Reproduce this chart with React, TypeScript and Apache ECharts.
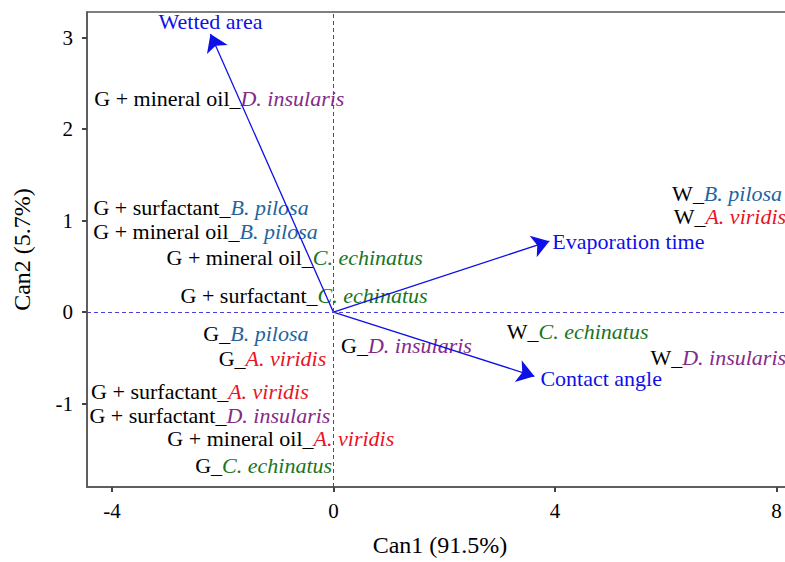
import React, { useEffect, useRef } from "react";
import * as echarts from "echarts";

// Treatment labels (centres of text)
const labelPrefix = [
  "G + mineral oil_",
  "G + surfactant_",
  "G + mineral oil_",
  "G + mineral oil_",
  "G + surfactant_",
  "G_",
  "G_",
  "G + surfactant_",
  "G + surfactant_",
  "G + mineral oil_",
  "G_",
  "G_",
  "W_",
  "W_",
  "W_",
  "W_",
];
const labelSpecies = [
  "D. insularis",
  "B. pilosa",
  "B. pilosa",
  "C. echinatus",
  "C. echinatus",
  "B. pilosa",
  "A. viridis",
  "A. viridis",
  "D. insularis",
  "A. viridis",
  "C. echinatus",
  "D. insularis",
  "C. echinatus",
  "D. insularis",
  "B. pilosa",
  "A. viridis",
];
const can1 = [-2.06, -2.39, -2.31, -0.7, -0.53, -1.4, -1.1, -2.41, -2.23, -0.95, -1.26, 1.32, 4.41, 6.95, 7.11, 7.16];
const can2 = [2.34, 1.14, 0.885, 0.6, 0.18, -0.23, -0.51, -0.87, -1.13, -1.38, -1.67, -0.36, -0.21, -0.49, 1.3, 1.05];

// Variable vectors
const arrowNames = ["Wetted area", "Evaporation time", "Contact angle"];
const arrowCan1 = [-2.22, 3.9, 3.63];
const arrowCan2 = [3.04, 0.776, -0.7];

const xTicks = [-4, 0, 4, 8];
const yTicks = [-1, 0, 1, 2, 3];

const speciesColor: Record<string, string> = {
  "B. pilosa": "#23639e",
  "A. viridis": "#e8141e",
  "C. echinatus": "#1a751e",
  "D. insularis": "#842a8a",
};
const speciesKey: Record<string, string> = {
  "B. pilosa": "bp",
  "A. viridis": "av",
  "C. echinatus": "ce",
  "D. insularis": "di",
};

const FONT = "'Liberation Serif', 'DejaVu Serif', serif";
const LABEL_SIZE = 22;

export default function App() {
  const ref = useRef<HTMLDivElement>(null);
  useEffect(() => {
    if (!ref.current) return;
    const chart = echarts.init(ref.current, undefined, { renderer: "svg" });

    const rich: Record<string, any> = {
      n: { color: "#000", fontFamily: FONT, fontSize: LABEL_SIZE, textBorderWidth: 0 },
    };
    Object.keys(speciesColor).forEach((s) => {
      rich[speciesKey[s]] = {
        color: speciesColor[s],
        fontFamily: FONT,
        fontSize: LABEL_SIZE,
        fontStyle: "italic",
        textBorderWidth: 0,
      };
    });

    const textData = can1.map((x, i) => ({
      value: [x, can2[i]],
      label: {
        formatter: `{n|${labelPrefix[i]}}{${speciesKey[labelSpecies[i]]}|${labelSpecies[i]}}`,
      },
    }));

    const arrowLabelStyle = [
      { align: "center", verticalAlign: "middle", offset: [0, -12] },
      { align: "left", verticalAlign: "middle", offset: [3, 0] },
      { align: "left", verticalAlign: "middle", offset: [6, 2] },
    ];

    const option: any = {
      animation: false,
      backgroundColor: "#ffffff",
      grid: {
        left: 87,
        right: 27,
        top: 12,
        bottom: 73,
        show: true,
        borderColor: "#555",
        borderWidth: 1.5,
        backgroundColor: "transparent",
      },
      xAxis: {
        type: "value",
        min: -4.45,
        max: 8.3,
        name: "Can1 (91.5%)",
        nameLocation: "middle",
        nameGap: 46,
        nameTextStyle: { fontFamily: FONT, fontSize: 24, color: "#000" },
        splitLine: { show: false },
        axisLine: { show: true, onZero: false, lineStyle: { color: "#555", width: 1.5 } },
        axisTick: { show: true, length: 5, lineStyle: { color: "#444", width: 2 }, customValues: xTicks },
        axisLabel: { fontFamily: FONT, fontSize: 21, color: "#000", margin: 13, customValues: xTicks },
      },
      yAxis: {
        type: "value",
        min: -1.91,
        max: 3.28,
        name: "Can2 (5.7%)",
        nameLocation: "middle",
        nameGap: 53,
        nameTextStyle: { fontFamily: FONT, fontSize: 24, color: "#000" },
        splitLine: { show: false },
        axisLine: { show: true, onZero: false, lineStyle: { color: "#555", width: 1.5 } },
        axisTick: { show: true, length: 5, lineStyle: { color: "#444", width: 2 }, customValues: yTicks },
        axisLabel: { fontFamily: FONT, fontSize: 21, color: "#000", margin: 14, customValues: yTicks },
      },
      series: [
        {
          type: "scatter",
          symbolSize: 0,
          itemStyle: { opacity: 1 },
          data: [],
          markLine: {
            silent: true,
            symbol: "none",
            label: { show: false },
            lineStyle: { type: [4, 3], color: "#4a3ed8", width: 1, opacity: 1 },
            emphasis: { disabled: true },
            data: [{ xAxis: 0 }, { yAxis: 0 }],
          },
          z: 1,
        },
        {
          type: "lines",
          coordinateSystem: "cartesian2d",
          symbol: ["none", "arrow"],
          symbolSize: 17,
          lineStyle: { color: "#0f0fe8", width: 1.3, opacity: 1, curveness: 0 },
          data: arrowCan1.map((x, i) => ({ coords: [[0, 0], [x, arrowCan2[i]]] })),
          z: 3,
        },
        {
          type: "scatter",
          symbolSize: 0,
          itemStyle: { color: "transparent", opacity: 1 },
          label: {
            show: true,
            position: "inside",
            opacity: 1,
            textBorderWidth: 0,
            textBorderColor: "transparent",
            rich,
          },
          data: textData,
          z: 2,
        },
        {
          type: "scatter",
          symbolSize: 0,
          itemStyle: { color: "transparent", opacity: 1 },
          data: arrowCan1.map((x, i) => ({
            value: [x, arrowCan2[i]],
            label: {
              show: true,
              position: "inside",
              formatter: arrowNames[i],
              color: "#0f0fe8",
              opacity: 1,
              textBorderWidth: 0,
              textBorderColor: "transparent",
              fontFamily: FONT,
              fontSize: LABEL_SIZE,
              ...arrowLabelStyle[i],
            },
          })),
          z: 4,
        },
      ],
    };
    chart.setOption(option);
    return () => chart.dispose();
  }, []);

  return (
    <div
      style={{
        position: "fixed",
        left: 0,
        top: 0,
        width: 785,
        height: 562,
        overflow: "hidden",
        background: "#fff",
      }}
    >
      <div ref={ref} style={{ width: 820, height: 562 }} />
    </div>
  );
}
